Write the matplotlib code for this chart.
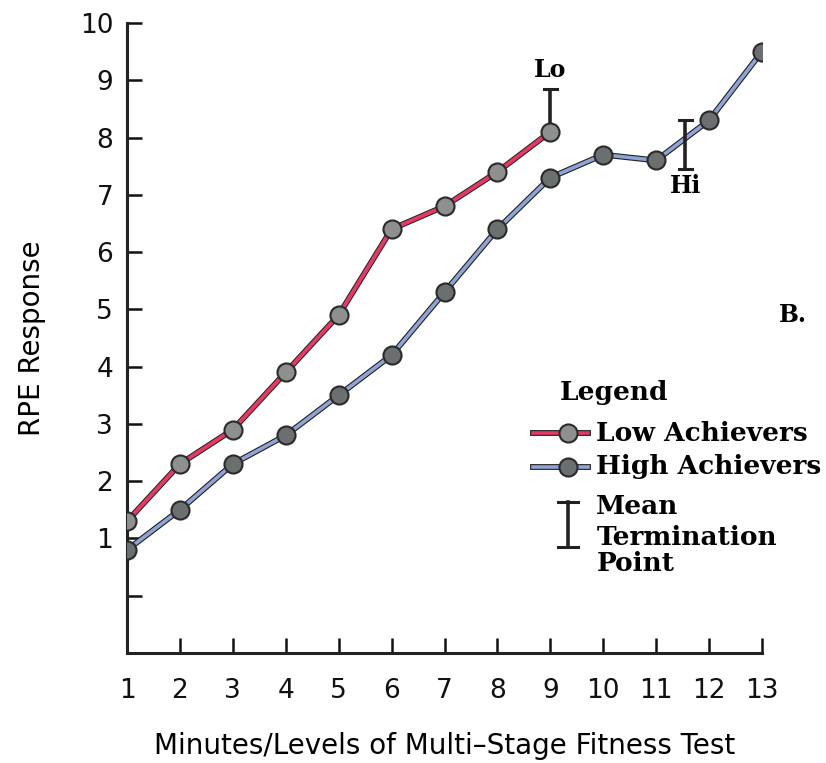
import matplotlib.pyplot as plt
import matplotlib.patheffects as pe

# RPE responses per minute/level
minutes = list(range(1, 14))
low_x = minutes[:9]
low_rpe = [1.3, 2.3, 2.9, 3.9, 4.9, 6.4, 6.8, 7.4, 8.1]
high_x = minutes
high_rpe = [0.8, 1.5, 2.3, 2.8, 3.5, 4.2, 5.3, 6.4, 7.3, 7.7, 7.6, 8.3, 9.5]

# mean termination points (x, bottom, top)
lo_term = (9.0, 8.1, 8.85)
hi_term = (11.55, 7.45, 8.3)

y_ticks = list(range(0, 11))
y_labels = [''] + [str(v) for v in range(1, 11)]

sans = 'DejaVu Sans'
serif = 'DejaVu Serif'

fig = plt.figure(figsize=(8.26, 7.63), dpi=100)
ax = fig.add_axes([0.1538, 0.1442, 0.7687, 0.8257])

outline = [pe.Stroke(linewidth=4.2, foreground='#202020'), pe.Normal()]

ax.plot(high_x, high_rpe, color='#8fa3d6', lw=2.6, zorder=2,
        path_effects=outline)
ax.plot(high_x, high_rpe, ls='none', marker='o', ms=13,
        mfc='#6b6f70', mec='#2a2a2a', mew=1.5, zorder=4)

ax.plot(low_x, low_rpe, color='#e23a63', lw=2.8, zorder=3,
        path_effects=outline)
ax.plot(low_x, low_rpe, ls='none', marker='o', ms=13,
        mfc='#8e9090', mec='#2a2a2a', mew=1.5, zorder=5)


def term_bar(x, y0, y1, xpx=0.12):
    ax.plot([x, x], [y0, y1], color='#222222', lw=2.6, zorder=3,
            solid_capstyle='butt')
    for yy in (y0, y1):
        ax.plot([x - xpx, x + xpx], [yy, yy], color='#222222', lw=2.2,
                zorder=3)


term_bar(*lo_term)
term_bar(*hi_term)
ax.text(lo_term[0], lo_term[2] + 0.12, 'Lo', fontfamily=serif,
        fontweight='bold', fontsize=17, ha='center', va='bottom')
ax.text(hi_term[0], hi_term[1] - 0.08, 'Hi', fontfamily=serif,
        fontweight='bold', fontsize=17, ha='center', va='top')

ax.set_xlim(1, 13)
ax.set_ylim(-1, 10)
ax.set_xticks(minutes)
ax.set_yticks(y_ticks)
ax.set_yticklabels(y_labels)
ax.tick_params(direction='in', length=11, width=1.8, labelsize=19,
               pad=10, colors='#111111')
ax.tick_params(axis='x', pad=18)
for lab in ax.get_xticklabels() + ax.get_yticklabels():
    lab.set_fontfamily(sans)

for side in ('top', 'right'):
    ax.spines[side].set_visible(False)
for side in ('left', 'bottom'):
    ax.spines[side].set_linewidth(2.2)
    ax.spines[side].set_color('#222222')
ax.spines['left'].set_bounds(-1, 10)

ax.set_xlabel('Minutes/Levels of Multi\u2013Stage Fitness Test',
              fontfamily=sans, fontsize=20, labelpad=20)
ax.set_ylabel('RPE Response', fontfamily=sans, fontsize=20, labelpad=24)

# panel letter
fig.text(0.977, 0.587, 'B.', fontfamily=serif, fontweight='bold',
         fontsize=17, ha='right', va='center')

# hand-built legend
leg_font = dict(fontfamily=serif, fontweight='bold', fontsize=19,
                va='center', transform=fig.transFigure)
fig.text(0.678, 0.485, 'Legend', **leg_font)
fig.text(0.722, 0.432, 'Low Achievers', **leg_font)
fig.text(0.722, 0.388, 'High Achievers', **leg_font)
fig.text(0.722, 0.336, 'Mean', **leg_font)
fig.text(0.722, 0.296, 'Termination', **leg_font)
fig.text(0.722, 0.262, 'Point', **leg_font)

for yy, lc, fc in ((0.432, '#e23a63', '#8e9090'),
                   (0.388, '#8fa3d6', '#6b6f70')):
    fig.add_artist(plt.Line2D([0.645, 0.712], [yy, yy], color=lc, lw=2.6,
                              path_effects=outline))
    fig.add_artist(plt.Line2D([0.688], [yy], marker='o', ms=13, mfc=fc,
                              mec='#2a2a2a', mew=1.5))

bx = 0.688
fig.add_artist(plt.Line2D([bx, bx], [0.283, 0.342], color='#222222', lw=2.6))
for yy in (0.283, 0.342):
    fig.add_artist(plt.Line2D([bx - 0.012, bx + 0.012], [yy, yy],
                              color='#222222', lw=2.2))

fig.savefig('out.png', dpi=100, facecolor='white')
